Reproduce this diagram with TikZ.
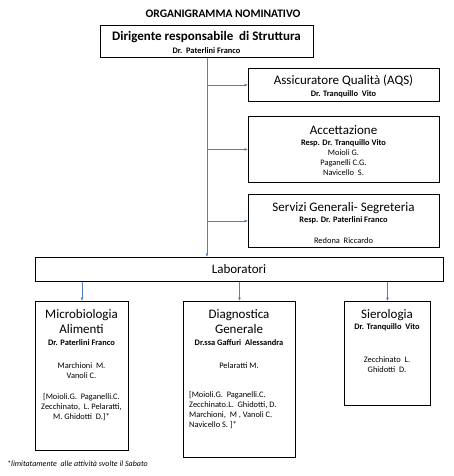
\documentclass[tikz,border=0pt]{standalone}
\usepackage{fontspec}
\setmainfont{Carlito}
\usetikzlibrary{arrows.meta}
\definecolor{bleu}{RGB}{79,129,189}
\tikzset{
  boite/.style={draw,line width=0.9pt,inner sep=0pt,anchor=north west},
  grand/.style={font=\fontsize{13}{15}\selectfont,inner sep=0pt,align=center,anchor=base},
  petit/.style={font=\fontsize{8.4}{10}\selectfont,inner sep=0pt,align=center,anchor=base},
  fleche/.style={draw=bleu,line width=0.8pt,-{Latex[length=3.5pt,width=3pt]}}
}
\begin{document}
\begin{tikzpicture}[x=1pt,y=-1pt]
\useasboundingbox (0,0) rectangle (454,476);
\node[font=\fontsize{11.5}{13}\selectfont\bfseries] (titre) at (223,14) {ORGANIGRAMMA NOMINATIVO};
% direction
\node[boite,minimum width=213pt,minimum height=32pt] (dir) at (100,25) {};
\node[grand,font=\fontsize{13}{15}\selectfont\bfseries] (dirt) at (206.5,41) {Dirigente responsabile\ \ di Struttura};
\node[petit,font=\fontsize{8.4}{10}\selectfont\bfseries] (dirn) at (206.5,53.5) {Dr.\ \ Paterlini Franco};
% services a droite (base = derniere ligne)
\node[boite,minimum width=191pt,minimum height=33pt] (aqs) at (248,68) {};
\node[grand] (aqst) at (343.5,85) {Assicuratore Qualità (AQS)};
\node[petit] (aqsn) at (343.5,96.5) {\bfseries Dr. Tranquillo\ \ Vito};
\node[boite,minimum width=191pt,minimum height=66pt] (acc) at (248,116) {};
\node[grand] (acct) at (343.5,134) {Accettazione};
\node[petit] (accn) at (343.5,175.5) {\bfseries Resp. Dr. Tranquillo Vito\\ Moioli G.\\ Paganelli C.G.\\ Navicello\ \ S.};
\node[boite,minimum width=191pt,minimum height=53pt] (serv) at (248,194) {};
\node[grand] (servt) at (343.5,211) {Servizi Generali- Segreteria};
\node[petit] (servn) at (343.5,243.5) {\bfseries Resp. Dr. Paterlini Franco\\[11pt] Redona\ \ Riccardo};
% laboratori
\node[boite,minimum width=408pt,minimum height=24pt] (lab) at (35,257) {};
\node[grand] (labt) at (239,273) {Laboratori};
\node[boite,minimum width=93pt,minimum height=149pt] (micro) at (35,301) {};
\node[grand] (microt) at (81.5,333) {Microbiologia\\ Alimenti};
\node[petit] (micron) at (81.5,419.5) {\bfseries Dr. Paterlini Franco\\[13pt] Marchioni\ \ M.\\ Vanoli C.\\[11pt] [Moioli.G.\ \ Paganelli.C.\\ Zecchinato,\ \ L. Pelaratti,\\ M. Ghidotti\ \ D.]*};
\node[boite,minimum width=112pt,minimum height=156pt] (diag) at (183,301) {};
\node[grand] (diagt) at (239,333) {Diagnostica\\ Generale};
\node[petit] (diagn) at (239,368.5) {\bfseries Dr.ssa Gaffuri\ \ Alessandra\\[13pt] Pelaratti M.};
\node[petit,align=left,anchor=base west] (diagl) at (189,427.5) {[Moioli.G.\ \ Paganelli.C.\\ Zecchinato.L.\ \ Ghidotti, D.\\ Marchioni,\ \ M , Vanoli C.\\ Navicello S. ]*};
\node[boite,minimum width=86pt,minimum height=104pt] (siero) at (344,301) {};
\node[grand] (sierot) at (387,318) {Sierologia};
\node[petit] (sieron) at (387,372.5) {\bfseries Dr. Tranquillo\ \ Vito\\[23pt] Zecchinato\ \ L.\\ Ghidotti\ \ D.};
\node[font=\fontsize{8}{9}\selectfont\itshape,inner sep=0pt,anchor=west] (note) at (7,464) {*limitatamente\ \ alle attività svolte il Sabato};
% liaisons
\draw[fleche] (dir.south) -- (dir.south |- lab.north);
\draw[fleche] (dir.south |- aqs.west) -- (aqs.west);
\draw[fleche] (dir.south |- acc.west) -- (acc.west);
\draw[fleche] (dir.south |- serv.west) -- (serv.west);
\draw[fleche] (lab.south -| micro.north) -- (micro.north);
\draw[fleche] (lab.south -| diag.north) -- (diag.north);
\draw[fleche] (lab.south -| siero.north) -- (siero.north);
\end{tikzpicture}
\end{document}
